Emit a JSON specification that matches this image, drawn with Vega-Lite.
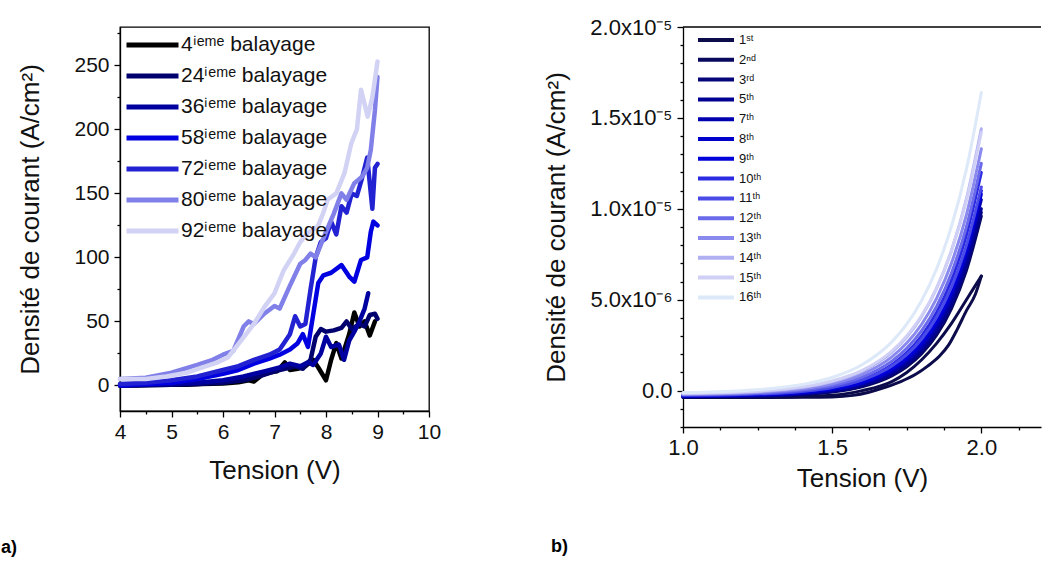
{
  "$schema": "https://vega.github.io/schema/vega-lite/v6.json",
  "background": "white",
  "padding": {"left": 0, "top": 16, "right": 0, "bottom": 0},
  "spacing": 101,
  "config": {
    "font": "Liberation Sans",
    "axis": {"domainColor": "#000", "tickColor": "#000", "labelColor": "#111", "titleColor": "#111", "labelFont": "Liberation Sans", "titleFont": "Liberation Sans", "titleFontWeight": "normal", "grid": false, "domainWidth": 1.3, "tickWidth": 1.3, "labelOverlap": false, "labelFlush": false},
    "legend": {"labelFont": "Liberation Sans", "labelColor": "#111"},
    "title": {"font": "Liberation Sans", "color": "#000"}
  },
  "datasets": {
    "a": [
      {"s":"4","V":4.0,"J":0},{"s":"4","V":4.3,"J":0},{"s":"4","V":4.6,"J":0.3},{"s":"4","V":5.0,"J":0.5},{"s":"4","V":5.3,"J":0.5},{"s":"4","V":5.6,"J":1},{"s":"4","V":6.0,"J":1.5},{"s":"4","V":6.3,"J":2.5},{"s":"4","V":6.5,"J":4},{"s":"4","V":6.6,"J":3},{"s":"4","V":6.75,"J":8},{"s":"4","V":6.9,"J":10},{"s":"4","V":7.05,"J":11},{"s":"4","V":7.2,"J":18},{"s":"4","V":7.3,"J":12},{"s":"4","V":7.45,"J":13},{"s":"4","V":7.6,"J":15},{"s":"4","V":7.75,"J":20},{"s":"4","V":7.85,"J":14},{"s":"4","V":8.0,"J":4},{"s":"4","V":8.1,"J":20},{"s":"4","V":8.2,"J":33},{"s":"4","V":8.3,"J":21},{"s":"4","V":8.45,"J":40},{"s":"4","V":8.55,"J":57},{"s":"4","V":8.65,"J":46},{"s":"4","V":8.75,"J":50},{"s":"4","V":8.85,"J":39},{"s":"4","V":8.95,"J":50},
      {"s":"24","V":4.0,"J":0},{"s":"24","V":4.5,"J":0.2},{"s":"24","V":5.0,"J":0.5},{"s":"24","V":5.5,"J":1},{"s":"24","V":6.0,"J":2},{"s":"24","V":6.4,"J":4},{"s":"24","V":6.7,"J":7},{"s":"24","V":7.0,"J":11},{"s":"24","V":7.2,"J":13},{"s":"24","V":7.4,"J":15},{"s":"24","V":7.55,"J":13},{"s":"24","V":7.7,"J":20},{"s":"24","V":7.8,"J":38},{"s":"24","V":7.9,"J":44},{"s":"24","V":8.0,"J":42},{"s":"24","V":8.15,"J":43},{"s":"24","V":8.3,"J":45},{"s":"24","V":8.4,"J":50},{"s":"24","V":8.5,"J":44},{"s":"24","V":8.65,"J":48},{"s":"24","V":8.75,"J":46},{"s":"24","V":8.85,"J":55},{"s":"24","V":8.95,"J":56},{"s":"24","V":9.0,"J":52},
      {"s":"36","V":4.0,"J":0},{"s":"36","V":4.5,"J":0.5},{"s":"36","V":5.0,"J":1},{"s":"36","V":5.5,"J":2},{"s":"36","V":6.0,"J":4},{"s":"36","V":6.4,"J":7},{"s":"36","V":6.8,"J":11},{"s":"36","V":7.1,"J":14},{"s":"36","V":7.3,"J":17},{"s":"36","V":7.5,"J":15},{"s":"36","V":7.65,"J":18},{"s":"36","V":7.75,"J":16},{"s":"36","V":7.9,"J":25},{"s":"36","V":8.0,"J":38},{"s":"36","V":8.1,"J":30},{"s":"36","V":8.25,"J":32},{"s":"36","V":8.35,"J":20},{"s":"36","V":8.45,"J":35},{"s":"36","V":8.55,"J":42},{"s":"36","V":8.65,"J":50},{"s":"36","V":8.75,"J":60},{"s":"36","V":8.82,"J":72},
      {"s":"58","V":4.0,"J":0},{"s":"58","V":4.5,"J":1},{"s":"58","V":5.0,"J":2},{"s":"58","V":5.5,"J":5},{"s":"58","V":6.0,"J":9},{"s":"58","V":6.3,"J":12},{"s":"58","V":6.6,"J":17},{"s":"58","V":6.9,"J":21},{"s":"58","V":7.1,"J":24},{"s":"58","V":7.3,"J":28},{"s":"58","V":7.45,"J":33},{"s":"58","V":7.55,"J":40},{"s":"58","V":7.65,"J":30},{"s":"58","V":7.75,"J":55},{"s":"58","V":7.85,"J":80},{"s":"58","V":7.95,"J":86},{"s":"58","V":8.1,"J":88},{"s":"58","V":8.3,"J":94},{"s":"58","V":8.45,"J":85},{"s":"58","V":8.55,"J":81},{"s":"58","V":8.68,"J":98},{"s":"58","V":8.8,"J":100},{"s":"58","V":8.87,"J":120},{"s":"58","V":8.92,"J":128},{"s":"58","V":9.0,"J":125},
      {"s":"72","V":4.0,"J":1},{"s":"72","V":4.5,"J":2},{"s":"72","V":5.0,"J":4},{"s":"72","V":5.5,"J":7},{"s":"72","V":6.0,"J":12},{"s":"72","V":6.3,"J":15},{"s":"72","V":6.6,"J":20},{"s":"72","V":6.9,"J":24},{"s":"72","V":7.1,"J":28},{"s":"72","V":7.3,"J":40},{"s":"72","V":7.4,"J":54},{"s":"72","V":7.5,"J":46},{"s":"72","V":7.6,"J":48},{"s":"72","V":7.7,"J":75},{"s":"72","V":7.8,"J":100},{"s":"72","V":7.9,"J":112},{"s":"72","V":8.0,"J":115},{"s":"72","V":8.1,"J":128},{"s":"72","V":8.2,"J":118},{"s":"72","V":8.3,"J":140},{"s":"72","V":8.4,"J":135},{"s":"72","V":8.5,"J":150},{"s":"72","V":8.6,"J":148},{"s":"72","V":8.7,"J":162},{"s":"72","V":8.8,"J":178},{"s":"72","V":8.9,"J":138},{"s":"72","V":8.95,"J":170},{"s":"72","V":9.0,"J":173},
      {"s":"80","V":4.0,"J":5},{"s":"80","V":4.5,"J":6},{"s":"80","V":5.0,"J":10},{"s":"80","V":5.5,"J":16},{"s":"80","V":5.8,"J":20},{"s":"80","V":6.0,"J":24},{"s":"80","V":6.2,"J":27},{"s":"80","V":6.4,"J":46},{"s":"80","V":6.5,"J":50},{"s":"80","V":6.6,"J":48},{"s":"80","V":6.8,"J":56},{"s":"80","V":7.0,"J":62},{"s":"80","V":7.1,"J":60},{"s":"80","V":7.3,"J":78},{"s":"80","V":7.5,"J":95},{"s":"80","V":7.6,"J":98},{"s":"80","V":7.7,"J":103},{"s":"80","V":7.8,"J":100},{"s":"80","V":8.0,"J":120},{"s":"80","V":8.15,"J":134},{"s":"80","V":8.3,"J":150},{"s":"80","V":8.4,"J":145},{"s":"80","V":8.55,"J":158},{"s":"80","V":8.7,"J":163},{"s":"80","V":8.8,"J":170},{"s":"80","V":8.87,"J":184},{"s":"80","V":8.95,"J":215},{"s":"80","V":9.0,"J":241},
      {"s":"92","V":4.0,"J":5},{"s":"92","V":4.5,"J":5},{"s":"92","V":4.9,"J":7},{"s":"92","V":5.3,"J":10},{"s":"92","V":5.6,"J":14},{"s":"92","V":5.9,"J":18},{"s":"92","V":6.1,"J":22},{"s":"92","V":6.35,"J":35},{"s":"92","V":6.6,"J":48},{"s":"92","V":6.8,"J":61},{"s":"92","V":7.0,"J":72},{"s":"92","V":7.18,"J":90},{"s":"92","V":7.38,"J":103},{"s":"92","V":7.5,"J":112},{"s":"92","V":7.64,"J":119},{"s":"92","V":7.84,"J":124},{"s":"92","V":7.95,"J":135},{"s":"92","V":8.03,"J":145},{"s":"92","V":8.2,"J":150},{"s":"92","V":8.36,"J":166},{"s":"92","V":8.49,"J":189},{"s":"92","V":8.6,"J":200},{"s":"92","V":8.68,"J":231},{"s":"92","V":8.81,"J":210},{"s":"92","V":8.9,"J":225},{"s":"92","V":9.0,"J":253}
    ],
    "b": [
      {"s":"1","br":"o","V":1.0,"J":-0.38e-6},{"s":"1","br":"o","V":1.2,"J":-0.38e-6},{"s":"1","br":"o","V":1.4,"J":-0.37e-6},{"s":"1","br":"o","V":1.5,"J":-0.35e-6},{"s":"1","br":"o","V":1.57,"J":-0.26e-6},{"s":"1","br":"o","V":1.62,"J":-0.1e-6},{"s":"1","br":"o","V":1.68,"J":0.2e-6},{"s":"1","br":"o","V":1.73,"J":0.5e-6},{"s":"1","br":"o","V":1.78,"J":0.9e-6},{"s":"1","br":"o","V":1.82,"J":1.35e-6},{"s":"1","br":"o","V":1.86,"J":1.9e-6},{"s":"1","br":"o","V":1.89,"J":2.5e-6},{"s":"1","br":"o","V":1.92,"J":3.4e-6},{"s":"1","br":"o","V":1.95,"J":4.4e-6},{"s":"1","br":"o","V":1.98,"J":5.3e-6},{"s":"1","br":"o","V":2.0,"J":6.3e-6},
      {"s":"1","br":"i","V":1.0,"J":-0.36e-6},{"s":"1","br":"i","V":1.3,"J":-0.35e-6},{"s":"1","br":"i","V":1.5,"J":-0.25e-6},{"s":"1","br":"i","V":1.6,"J":0.0},{"s":"1","br":"i","V":1.7,"J":0.5e-6},{"s":"1","br":"i","V":1.75,"J":1.0e-6},{"s":"1","br":"i","V":1.8,"J":1.7e-6},{"s":"1","br":"i","V":1.85,"J":2.6e-6},{"s":"1","br":"i","V":1.9,"J":3.7e-6},{"s":"1","br":"i","V":1.95,"J":5.0e-6},{"s":"1","br":"i","V":2.0,"J":6.3e-6},
      {"s":"2","V":1.0,"J":-0.352e-6},{"s":"2","V":1.2,"J":-0.327e-6},{"s":"2","V":1.4,"J":-0.223e-6},{"s":"2","V":1.5,"J":-0.080e-6},{"s":"2","V":1.6,"J":0.212e-6},{"s":"2","V":1.7,"J":0.808e-6},{"s":"2","V":1.75,"J":1.310e-6},{"s":"2","V":1.8,"J":2.027e-6},{"s":"2","V":1.85,"J":3.051e-6},{"s":"2","V":1.9,"J":4.516e-6},{"s":"2","V":1.95,"J":6.609e-6},{"s":"2","V":2.0,"J":9.6e-6},
      {"s":"3","V":1.0,"J":-0.341e-6},{"s":"3","V":1.2,"J":-0.314e-6},{"s":"3","V":1.4,"J":-0.202e-6},{"s":"3","V":1.5,"J":-0.050e-6},{"s":"3","V":1.6,"J":0.257e-6},{"s":"3","V":1.7,"J":0.877e-6},{"s":"3","V":1.75,"J":1.395e-6},{"s":"3","V":1.8,"J":2.133e-6},{"s":"3","V":1.85,"J":3.180e-6},{"s":"3","V":1.9,"J":4.670e-6},{"s":"3","V":1.95,"J":6.788e-6},{"s":"3","V":2.0,"J":9.8e-6},
      {"s":"5","V":1.0,"J":-0.330e-6},{"s":"5","V":1.2,"J":-0.300e-6},{"s":"5","V":1.4,"J":-0.180e-6},{"s":"5","V":1.5,"J":-0.019e-6},{"s":"5","V":1.6,"J":0.303e-6},{"s":"5","V":1.7,"J":0.948e-6},{"s":"5","V":1.75,"J":1.482e-6},{"s":"5","V":1.8,"J":2.239e-6},{"s":"5","V":1.85,"J":3.308e-6},{"s":"5","V":1.9,"J":4.824e-6},{"s":"5","V":1.95,"J":6.968e-6},{"s":"5","V":2.0,"J":10.0e-6},
      {"s":"7","V":1.0,"J":-0.309e-6},{"s":"7","V":1.2,"J":-0.275e-6},{"s":"7","V":1.4,"J":-0.142e-6},{"s":"7","V":1.5,"J":0.032e-6},{"s":"7","V":1.6,"J":0.379e-6},{"s":"7","V":1.7,"J":1.066e-6},{"s":"7","V":1.75,"J":1.633e-6},{"s":"7","V":1.8,"J":2.429e-6},{"s":"7","V":1.85,"J":3.554e-6},{"s":"7","V":1.9,"J":5.134e-6},{"s":"7","V":1.95,"J":7.365e-6},{"s":"7","V":2.0,"J":10.5e-6},
      {"s":"8","V":1.0,"J":-0.297e-6},{"s":"8","V":1.2,"J":-0.260e-6},{"s":"8","V":1.4,"J":-0.117e-6},{"s":"8","V":1.5,"J":0.069e-6},{"s":"8","V":1.6,"J":0.434e-6},{"s":"8","V":1.7,"J":1.153e-6},{"s":"8","V":1.75,"J":1.742e-6},{"s":"8","V":1.8,"J":2.566e-6},{"s":"8","V":1.85,"J":3.722e-6},{"s":"8","V":1.9,"J":5.342e-6},{"s":"8","V":1.95,"J":7.614e-6},{"s":"8","V":2.0,"J":10.8e-6},
      {"s":"9","V":1.0,"J":-0.286e-6},{"s":"9","V":1.2,"J":-0.245e-6},{"s":"9","V":1.4,"J":-0.093e-6},{"s":"9","V":1.5,"J":0.103e-6},{"s":"9","V":1.6,"J":0.485e-6},{"s":"9","V":1.7,"J":1.229e-6},{"s":"9","V":1.75,"J":1.834e-6},{"s":"9","V":1.8,"J":2.679e-6},{"s":"9","V":1.85,"J":3.857e-6},{"s":"9","V":1.9,"J":5.501e-6},{"s":"9","V":1.95,"J":7.796e-6},{"s":"9","V":2.0,"J":11.0e-6},
      {"s":"10","V":1.0,"J":-0.263e-6},{"s":"10","V":1.2,"J":-0.216e-6},{"s":"10","V":1.4,"J":-0.043e-6},{"s":"10","V":1.5,"J":0.178e-6},{"s":"10","V":1.6,"J":0.603e-6},{"s":"10","V":1.7,"J":1.426e-6},{"s":"10","V":1.75,"J":2.090e-6},{"s":"10","V":1.8,"J":3.013e-6},{"s":"10","V":1.85,"J":4.297e-6},{"s":"10","V":1.9,"J":6.080e-6},{"s":"10","V":1.95,"J":8.558e-6},{"s":"10","V":2.0,"J":12.0e-6},
      {"s":"11","V":1.0,"J":-0.243e-6},{"s":"11","V":1.2,"J":-0.199e-6},{"s":"11","V":1.4,"J":-0.033e-6},{"s":"11","V":1.5,"J":0.176e-6},{"s":"11","V":1.6,"J":0.579e-6},{"s":"11","V":1.7,"J":1.352e-6},{"s":"11","V":1.75,"J":1.976e-6},{"s":"11","V":1.8,"J":2.841e-6},{"s":"11","V":1.85,"J":4.041e-6},{"s":"11","V":1.9,"J":5.700e-6},{"s":"11","V":1.95,"J":8.004e-6},{"s":"11","V":2.0,"J":11.2e-6},
      {"s":"12","V":1.0,"J":-0.219e-6},{"s":"12","V":1.2,"J":-0.164e-6},{"s":"12","V":1.4,"J":0.032e-6},{"s":"12","V":1.5,"J":0.277e-6},{"s":"12","V":1.6,"J":0.741e-6},{"s":"12","V":1.7,"J":1.621e-6},{"s":"12","V":1.75,"J":2.326e-6},{"s":"12","V":1.8,"J":3.295e-6},{"s":"12","V":1.85,"J":4.629e-6},{"s":"12","V":1.9,"J":6.471e-6},{"s":"12","V":1.95,"J":9.002e-6},{"s":"12","V":2.0,"J":12.5e-6},
      {"s":"13","V":1.0,"J":-0.194e-6},{"s":"13","V":1.2,"J":-0.129e-6},{"s":"13","V":1.4,"J":0.098e-6},{"s":"13","V":1.5,"J":0.374e-6},{"s":"13","V":1.6,"J":0.890e-6},{"s":"13","V":1.7,"J":1.854e-6},{"s":"13","V":1.75,"J":2.614e-6},{"s":"13","V":1.8,"J":3.653e-6},{"s":"13","V":1.85,"J":5.074e-6},{"s":"13","V":1.9,"J":7.017e-6},{"s":"13","V":1.95,"J":9.671e-6},{"s":"13","V":2.0,"J":13.3e-6},
      {"s":"14","V":1.0,"J":-0.168e-6},{"s":"14","V":1.2,"J":-0.092e-6},{"s":"14","V":1.4,"J":0.168e-6},{"s":"14","V":1.5,"J":0.480e-6},{"s":"14","V":1.6,"J":1.055e-6},{"s":"14","V":1.7,"J":2.118e-6},{"s":"14","V":1.75,"J":2.949e-6},{"s":"14","V":1.8,"J":4.079e-6},{"s":"14","V":1.85,"J":5.618e-6},{"s":"14","V":1.9,"J":7.706e-6},{"s":"14","V":1.95,"J":10.541e-6},{"s":"14","V":2.0,"J":14.4e-6},
      {"s":"15","V":1.0,"J":-0.145e-6},{"s":"15","V":1.2,"J":-0.064e-6},{"s":"15","V":1.4,"J":0.207e-6},{"s":"15","V":1.5,"J":0.528e-6},{"s":"15","V":1.6,"J":1.112e-6},{"s":"15","V":1.7,"J":2.180e-6},{"s":"15","V":1.75,"J":3.009e-6},{"s":"15","V":1.8,"J":4.130e-6},{"s":"15","V":1.85,"J":5.644e-6},{"s":"15","V":1.9,"J":7.693e-6},{"s":"15","V":1.95,"J":10.463e-6},{"s":"15","V":2.0,"J":14.2e-6},
      {"s":"16","V":1.0,"J":-0.104e-6},{"s":"16","V":1.2,"J":0.0},{"s":"16","V":1.4,"J":0.335e-6},{"s":"16","V":1.5,"J":0.724e-6},{"s":"16","V":1.6,"J":1.424e-6},{"s":"16","V":1.7,"J":2.683e-6},{"s":"16","V":1.75,"J":3.653e-6},{"s":"16","V":1.8,"J":4.956e-6},{"s":"16","V":1.85,"J":6.700e-6},{"s":"16","V":1.9,"J":9.042e-6},{"s":"16","V":1.95,"J":12.185e-6},{"s":"16","V":2.0,"J":16.4e-6}
    ]
  },
  "hconcat": [
    {
      "width": 309,
      "height": 384,
      "view": {"stroke": "#000", "strokeWidth": 1.3},
      "title": {"text": "a)", "orient": "bottom", "anchor": "start", "frame": "group", "offset": 56, "dx": -119, "fontSize": 18, "fontWeight": "bold"},
      "data": {"name": "a"},
      "mark": {"type": "line", "strokeWidth": 4.5, "strokeJoin": "round", "strokeCap": "round"},
      "encoding": {
        "x": {"field": "V", "type": "quantitative", "scale": {"domain": [4, 10], "nice": false, "zero": false},
          "axis": {"title": "Tension (V)", "values": [4,4.5,5,5.5,6,6.5,7,7.5,8,8.5,9,9.5,10], "labelExpr": "datum.value % 1 == 0 ? format(datum.value, 'd') : ''", "labelOverlap": false, "labelFlush": false, "tickSize": {"condition": {"test": "datum.value % 1 == 0", "value": 6}, "value": 3}, "labelFontSize": 21, "labelPadding": 4, "titleFontSize": 26, "titlePadding": 15}},
        "y": {"field": "J", "type": "quantitative", "scale": {"domain": [-20, 280], "nice": false, "zero": false},
          "axis": {"title": "Densité de courant (A/cm²)", "values": [0,25,50,75,100,125,150,175,200,225,250,275], "labelExpr": "datum.value % 50 == 0 ? format(datum.value, 'd') : ''", "labelOverlap": false, "tickSize": {"condition": {"test": "datum.value % 50 == 0", "value": 6}, "value": 3}, "labelFontSize": 21, "labelPadding": 5, "titleFontSize": 26, "titlePadding": 30}},
        "color": {"field": "s", "type": "nominal",
          "scale": {"domain": ["4","24","36","58","72","80","92"], "range": ["#000000","#00006e","#0000a0","#0000e0","#2222d2","#8080e8","#d2d2f4"]},
          "legend": {"title": null, "orient": "none", "legendX": 4, "legendY": 5, "symbolType": "stroke", "symbolSize": 2704, "symbolStrokeWidth": 5, "clipHeight": 26, "rowPadding": 5, "labelFontSize": 21, "labelOffset": 0, "padding": 0, "labelLimit": 400, "labelExpr": "datum.label + 'ⁱᵉᵐᵉ balayage'"}}
      }
    },
    {
      "width": 358,
      "height": 400,
      "view": {"stroke": null},
      "title": {"text": "b)", "orient": "bottom", "anchor": "start", "frame": "group", "offset": 47, "dx": -132, "fontSize": 18, "fontWeight": "bold"},
      "layer": [
        {
          "data": {"name": "b"},
          "mark": {"type": "line", "strokeWidth": 3, "interpolate": "monotone", "strokeCap": "round"},
          "encoding": {
            "x": {"field": "V", "type": "quantitative", "scale": {"domain": [1.0, 2.2], "nice": false, "zero": false},
              "axis": {"title": "Tension (V)", "values": [1,1.125,1.25,1.375,1.5,1.625,1.75,1.875,2,2.125], "labelExpr": "round(datum.value*8) % 4 == 0 ? format(datum.value, '.1f') : ''", "labelOverlap": false, "labelFlush": false, "tickSize": {"condition": {"test": "round(datum.value*8) % 4 == 0", "value": 6}, "value": 3}, "labelFontSize": 22, "labelPadding": 4, "titleFontSize": 26, "titlePadding": 7}},
            "y": {"field": "J", "type": "quantitative", "scale": {"domain": [-2e-6, 2e-5], "nice": false, "zero": false},
              "axis": {"title": "Densité de courant (A/cm²)", "values": [-2e-6,-1e-6,0,1e-6,2e-6,3e-6,4e-6,5e-6,6e-6,7e-6,8e-6,9e-6,1e-5,1.1e-5,1.2e-5,1.3e-5,1.4e-5,1.5e-5,1.6e-5,1.7e-5,1.8e-5,1.9e-5,2e-5],
                "labelExpr": "round(datum.value*1000000) % 5 != 0 ? '' : round(datum.value*1000000) == 0 ? '0.0' : round(datum.value*1000000) < 10 ? format(datum.value*1000000, '.1f') + 'x10⁻⁶' : format(datum.value*100000, '.1f') + 'x10⁻⁵'",
                "labelOverlap": false, "labelFlush": false,
                "tickSize": {"condition": {"test": "round(datum.value*1000000) % 5 == 0", "value": 6}, "value": 3}, "labelFontSize": 22, "labelPadding": 5, "titleFontSize": 26, "titlePadding": 20}},
            "color": {"field": "s", "type": "nominal",
              "scale": {"domain": ["1","2","3","5","7","8","9","10","11","12","13","14","15","16"], "range": ["#0c0c4c","#08085e","#06067a","#000092","#0000b0","#0000cc","#0000da","#2a2ae2","#4a4ae8","#6a6aea","#8a8aee","#afaff2","#d0d0f6","#dde9f8"]},
              "legend": {"title": null, "orient": "none", "legendX": 13, "legendY": 6, "symbolType": "stroke", "symbolSize": 1296, "symbolStrokeWidth": 4, "clipHeight": 14, "rowPadding": 5.8, "labelFontSize": 13, "labelOffset": 3, "padding": 0,
                "labelExpr": "datum.label == '1' ? '1ˢᵗ' : datum.label == '2' ? '2ⁿᵈ' : datum.label == '3' ? '3ʳᵈ' : datum.label + 'ᵗʰ'"}},
            "detail": {"field": "br"}
          }
        },
        {
          "data": {"values": [{}]},
          "mark": {"type": "rule", "color": "#000", "strokeWidth": 1.3},
          "encoding": {
            "y": {"datum": 2e-5, "type": "quantitative",
              "axis": {"title": "Densité de courant (A/cm²)", "values": [-2e-6,-1e-6,0,1e-6,2e-6,3e-6,4e-6,5e-6,6e-6,7e-6,8e-6,9e-6,1e-5,1.1e-5,1.2e-5,1.3e-5,1.4e-5,1.5e-5,1.6e-5,1.7e-5,1.8e-5,1.9e-5,2e-5],
                "labelExpr": "round(datum.value*1000000) % 5 != 0 ? '' : round(datum.value*1000000) == 0 ? '0.0' : round(datum.value*1000000) < 10 ? format(datum.value*1000000, '.1f') + 'x10⁻⁶' : format(datum.value*100000, '.1f') + 'x10⁻⁵'",
                "labelOverlap": false, "labelFlush": false,
                "tickSize": {"condition": {"test": "round(datum.value*1000000) % 5 == 0", "value": 6}, "value": 3}, "labelFontSize": 22, "labelPadding": 5, "titleFontSize": 26, "titlePadding": 20}}
          }
        }
      ]
    }
  ],
  "resolve": {"scale": {"color": "independent"}}
}
